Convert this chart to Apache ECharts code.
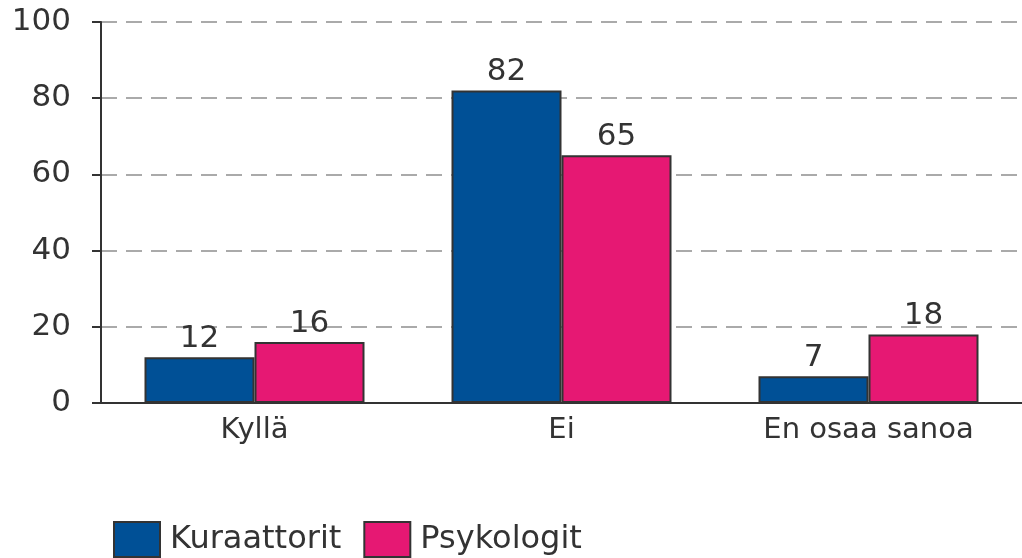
<!DOCTYPE html>
<html><head><meta charset="utf-8">
<script src="https://cdn.jsdelivr.net/npm/echarts@6/dist/echarts.min.js"></script>
<style>html,body{margin:0;padding:0;background:#fff}#c{width:1022px;height:558px}</style>
</head><body><div id="c"></div>
<script>
const categories = ["Kyllä", "Ei", "En osaa sanoa"];
const kuraattorit = [12, 82, 7];
const psykologit = [16, 65, 18];
const seriesNames = ["Kuraattorit", "Psykologit"];

const font = "DejaVu Sans, Verdana, sans-serif";
const chart = echarts.init(document.getElementById('c'));
const labelOpt = {show: true, position: 'top', distance: 3, color: '#333', fontSize: 31, fontFamily: font};
chart.setOption({
  animation: false,
  grid: {left: 101, right: 0, top: 22, bottom: 155, containLabel: false},
  legend: {
    left: 113, top: 521, padding: 0, itemWidth: 46, itemHeight: 35, itemGap: 22, icon: 'rect',
    itemStyle: {borderColor: '#333', borderWidth: 2},
    textStyle: {fontSize: 32, color: '#333', fontFamily: font, padding: [0, 0, 0, 5]},
    data: seriesNames
  },
  xAxis: {
    type: 'category', data: categories,
    axisLine: {lineStyle: {color: '#333', width: 2}},
    axisTick: {show: false},
    axisLabel: {fontSize: 29, color: '#333', fontFamily: font, margin: 13}
  },
  yAxis: {
    type: 'value', min: 0, max: 100, interval: 20,
    axisLine: {show: true, lineStyle: {color: '#333', width: 2}},
    axisTick: {show: true, inside: false, length: 9, lineStyle: {color: '#333', width: 2}},
    axisLabel: {fontSize: 31, color: '#333', fontFamily: font, margin: 30},
    splitLine: {lineStyle: {color: '#aaa', type: [16, 9], width: 2}}
  },
  series: [
    {name: seriesNames[0], type: 'bar', data: kuraattorit, barWidth: 110, barGap: '0%',
     itemStyle: {color: '#005096', borderColor: '#333', borderWidth: 2}, label: labelOpt},
    {name: seriesNames[1], type: 'bar', data: psykologit, barWidth: 110, barGap: '0%',
     itemStyle: {color: '#E61873', borderColor: '#333', borderWidth: 2}, label: labelOpt}
  ]
});
</script></body></html>
